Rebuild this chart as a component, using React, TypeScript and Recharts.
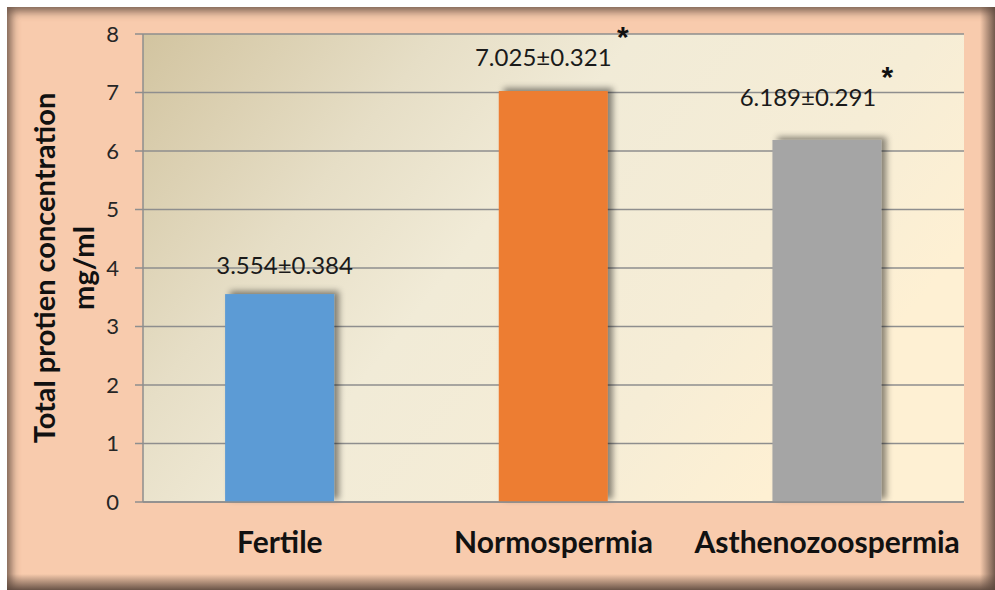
import React from "react";
import { BarChart, Bar, XAxis, YAxis, CartesianGrid, Cell, LabelList, Label } from "recharts";

const categories = ["Fertile", "Normospermia", "Asthenozoospermia"];
const meanValues = [3.554, 7.025, 6.189];
const valueLabels = ["3.554±0.384", "7.025±0.321", "6.189±0.291"];
const significance = ["", "*", "*"];
const yTicks = [0, 1, 2, 3, 4, 5, 6, 7, 8];
const barColors = ["#5B9BD5", "#ED7D31", "#A5A5A5"];
// label placement relative to bar top (dx, lift)
const labelDx = [5, -10, -19];
const labelLift = [20, 25, 34];

const data = categories.map((c, i) => ({
  name: c,
  value: meanValues[i],
  label: valueLabels[i],
  sig: significance[i],
  idx: i,
}));

const FONT = "Lato, 'Open Sans', sans-serif";

const ValueLabel = (props: any) => {
  const { x, y, width, index } = props;
  const cx = x + width / 2 + labelDx[index];
  const by = y - labelLift[index];
  const text = valueLabels[index];
  const approxW = 137;
  return (
    <g>
      <text x={cx} y={by} textAnchor="middle" fontFamily={FONT} fontSize={24} fill="#1a1a1a">
        {text}
      </text>
      {significance[index] ? (
        <text
          x={cx + approxW / 2 + 11}
          y={by - 19}
          textAnchor="middle"
          fontFamily="'Liberation Sans', sans-serif"
          fontWeight="bold"
          fontSize={30}
          fill="#111"
        >
          {significance[index]}
        </text>
      ) : null}
    </g>
  );
};

const XTick = (props: any) => {
  const { x, y, payload } = props;
  return (
    <text x={x} y={y} textAnchor="middle" fontFamily={FONT} fontWeight="bold" fontSize={30} fill="#111">
      {payload.value}
    </text>
  );
};

const YTitle = (props: any) => {
  const vb = props.viewBox || {};
  const cy = vb.y + vb.height / 2;
  const x1 = vb.x - 50;
  const x2 = vb.x - 11;
  return (
    <g>
      <text
        x={x1}
        y={cy}
        transform={`rotate(-90 ${x1} ${cy})`}
        textAnchor="middle"
        dominantBaseline="central"
        fontFamily={FONT}
        fontWeight="bold"
        fontSize={29}
        fill="#111"
      >
        Total protien concentration
      </text>
      <text
        x={x2}
        y={cy}
        transform={`rotate(-90 ${x2} ${cy})`}
        textAnchor="middle"
        dominantBaseline="central"
        fontFamily={FONT}
        fontWeight="bold"
        fontSize={29}
        fill="#111"
      >
        mg/ml
      </text>
    </g>
  );
};

const ShadowBar = (props: any) => {
  const { x, y, width, height, fill } = props;
  return <rect x={x} y={y} width={width} height={height} fill={fill} filter="url(#barShadow)" />;
};

export default function App() {
  return (
    <div style={{ position: "absolute", left: 0, top: 0, width: 995, height: 590, background: "#fff", overflow: "hidden" }}>
      <svg width={0} height={0} style={{ position: "absolute" }}>
        <defs>
          <linearGradient id="plotBg" x1="0" y1="0" x2="1" y2="0.45">
            <stop offset="0" stopColor="#D2C4A0" />
            <stop offset="0.3" stopColor="#E6DEC6" />
            <stop offset="0.5" stopColor="#F1EBD7" />
            <stop offset="0.8" stopColor="#F6EDD6" />
            <stop offset="1" stopColor="#FEF0D3" />
          </linearGradient>
          <filter id="barShadow" x="-30%" y="-30%" width="160%" height="160%">
            <feDropShadow dx="5" dy="-3" stdDeviation="3" floodColor="#000" floodOpacity="0.45" />
          </filter>
        </defs>
      </svg>
      <div
        style={{
          position: "absolute",
          left: 7,
          top: 7,
          width: 1000,
          height: 600,
          background: "#F8CBAD",
          boxShadow: "inset 0 0 10px 4px rgba(90,70,60,0.85)",
        }}
      />
      <div
        style={{
          position: "absolute",
          left: 7,
          top: 574,
          width: 988,
          height: 16,
          background: "linear-gradient(to bottom, rgba(90,70,60,0) 0%, rgba(90,70,60,0.9) 100%)",
        }}
      />
      <div
        style={{
          position: "absolute",
          left: 980,
          top: 7,
          width: 15,
          height: 583,
          background: "linear-gradient(to right, rgba(90,70,60,0) 0%, rgba(90,70,60,0.85) 100%)",
        }}
      />
      <div style={{ position: "absolute", left: 0, top: 0 }}>
        <BarChart
          width={995}
          height={590}
          data={data}
          margin={{ top: 34, right: 31, bottom: 48, left: 93 }}
          barCategoryGap="30%"
        >
          <CartesianGrid vertical={false} stroke="#8E8E8E" strokeWidth={1.5} fill="url(#plotBg)" />
          <XAxis
            dataKey="name"
            height={40}
            tickLine={false}
            axisLine={{ stroke: "#8E8E8E", strokeWidth: 1.5 }}
            tick={<XTick />}
            tickMargin={0}
            tickSize={51}
            interval={0}
          />
          <YAxis
            width={50}
            domain={[0, 8]}
            ticks={yTicks}
            interval={0}
            tickSize={8}
            tickMargin={16}
            tickLine={{ stroke: "#8E8E8E", strokeWidth: 1.5 }}
            axisLine={{ stroke: "#8E8E8E", strokeWidth: 1.5 }}
            tick={{ fontFamily: FONT, fontSize: 22, fill: "#262626" }}
          >
            <Label content={<YTitle />} />
          </YAxis>
          <Bar dataKey="value" isAnimationActive={false} shape={<ShadowBar />}>
            {data.map((d, i) => (
              <Cell key={d.name} fill={barColors[i]} />
            ))}
            <LabelList dataKey="label" content={<ValueLabel />} />
          </Bar>
        </BarChart>
      </div>
    </div>
  );
}
